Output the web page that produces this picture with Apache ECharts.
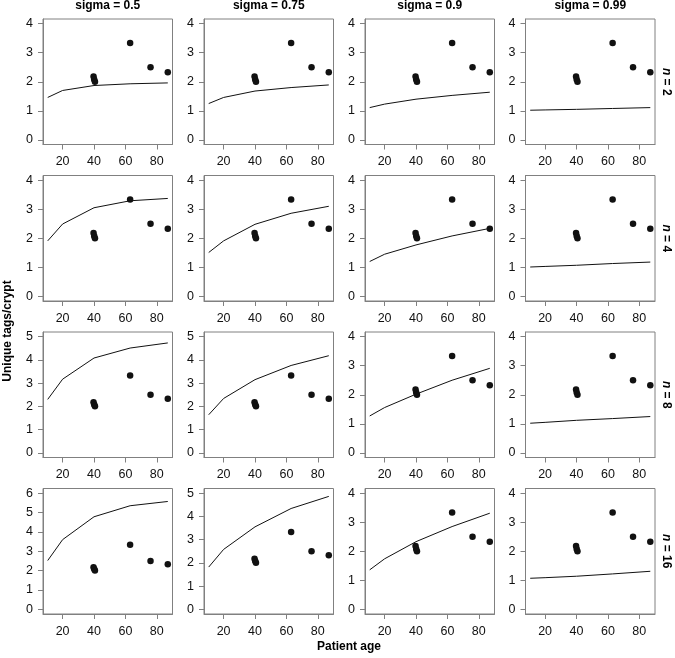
<!DOCTYPE html>
<html>
<head>
<meta charset="utf-8">
<script src="https://cdn.jsdelivr.net/npm/echarts@6/dist/echarts.min.js"></script>
<style>
html,body{margin:0;padding:0;background:#fff;}
#chart{width:675px;height:658px;}
</style>
</head>
<body>
<div id="chart"></div>
<script>
// Column (sigma) and row (n) panel labels
const sigmaLabels = ['sigma = 0.5', 'sigma = 0.75', 'sigma = 0.9', 'sigma = 0.99'];
const nValues = [2, 4, 8, 16];

// Observed data (same in every panel)
const patientAges = [39.7, 40.1, 40.6, 63, 76, 87];
const uniqueTags = [2.18, 2.08, 2.0, 3.33, 2.5, 2.33];

// Model curve ages
const modelAges = [10.5, 20, 40, 63, 87];

// Model curves: one array per sigma column, per n row
const modelN2 = [
  [1.46, 1.70, 1.87, 1.93, 1.96],
  [1.25, 1.46, 1.68, 1.80, 1.89],
  [1.11, 1.23, 1.40, 1.53, 1.64],
  [1.02, 1.03, 1.05, 1.08, 1.11]
];
const modelN4 = [
  [1.91, 2.49, 3.05, 3.29, 3.37],
  [1.51, 1.91, 2.48, 2.86, 3.10],
  [1.20, 1.45, 1.77, 2.08, 2.34],
  [1.01, 1.03, 1.07, 1.13, 1.18]
];
const modelN8 = [
  [2.30, 3.17, 4.08, 4.51, 4.73],
  [1.64, 2.34, 3.15, 3.76, 4.18],
  [1.27, 1.56, 2.02, 2.50, 2.91],
  [1.02, 1.05, 1.12, 1.18, 1.25]
];
const modelN16 = [
  [2.52, 3.60, 4.78, 5.35, 5.57],
  [1.82, 2.58, 3.55, 4.34, 4.86],
  [1.36, 1.74, 2.33, 2.85, 3.31],
  [1.07, 1.09, 1.14, 1.22, 1.31]
];
const models = [modelN2, modelN4, modelN8, modelN16];

// Tick labels
const xTicks = [20, 40, 60, 80];
const xRange = [7.5, 90];

const FONT = '"Liberation Sans", Arial, Helvetica, sans-serif';
const FRAME = '#808080';

const colLefts = [43, 204, 365, 525.5];
const rowTops = [19, 175.5, 332, 488.5];
const PW = 129.5, PH = 125.5;

const grids = [], xAxes = [], yAxes = [], series = [], graphics = [];

for (let r = 0; r < 4; r++) {
  for (let c = 0; c < 4; c++) {
    const idx = r * 4 + c;
    const curve = models[r][c];
    const yMax = Math.ceil(Math.max(...curve, ...uniqueTags));
    const yTicks = [];
    for (let v = 0; v <= yMax; v++) yTicks.push(v);
    const pad = yMax * 0.04;
    grids.push({
      left: colLefts[c], top: rowTops[r], width: PW, height: PH,
      show: true, borderColor: FRAME, borderWidth: 1, backgroundColor: 'transparent'
    });
    xAxes.push({
      type: 'value', gridIndex: idx, min: xRange[0], max: xRange[1],
      axisLine: { show: true, onZero: false, lineStyle: { color: FRAME, width: 1 } },
      axisTick: { show: true, length: 5, customValues: xTicks, lineStyle: { color: FRAME } },
      axisLabel: { show: true, customValues: xTicks, margin: 11, color: '#111', fontSize: 12.5, fontFamily: FONT },
      splitLine: { show: false }
    });
    yAxes.push({
      type: 'value', gridIndex: idx, min: -pad, max: yMax + pad,
      axisLine: { show: true, onZero: false, lineStyle: { color: FRAME, width: 1 } },
      axisTick: { show: true, length: 5, customValues: yTicks, lineStyle: { color: FRAME } },
      axisLabel: { show: true, customValues: yTicks, margin: 10, color: '#111', fontSize: 12.5, fontFamily: FONT },
      splitLine: { show: false }
    });
    series.push({
      type: 'line', xAxisIndex: idx, yAxisIndex: idx,
      data: modelAges.map((a, i) => [a, curve[i]]),
      showSymbol: false, symbol: 'none',
      lineStyle: { color: '#111', width: 1 }, silent: true, animation: false
    });
    series.push({
      type: 'scatter', xAxisIndex: idx, yAxisIndex: idx,
      data: patientAges.map((a, i) => [a, uniqueTags[i]]),
      symbol: 'circle', symbolSize: 6.5,
      itemStyle: { color: '#111', opacity: 1 }, silent: true, animation: false
    });
  }
}

// Column strip titles
for (let c = 0; c < 4; c++) {
  graphics.push({
    type: 'text', x: colLefts[c] + PW / 2, y: 6,
    style: { text: sigmaLabels[c], font: 'bold 12px ' + FONT, fill: '#000', align: 'center', verticalAlign: 'middle' }
  });
}
// Row strip titles (rotated, italic n)
for (let r = 0; r < 4; r++) {
  graphics.push({
    type: 'text', x: 666, y: rowTops[r] + PH / 2, rotation: -Math.PI / 2,
    style: {
      text: '{i|n} = ' + nValues[r],
      rich: { i: { font: 'italic bold 12px ' + FONT, fill: '#000' } },
      font: 'bold 12px ' + FONT, fill: '#000', align: 'center', verticalAlign: 'middle'
    }
  });
}
// Axis titles
graphics.push({
  type: 'text', x: 349, y: 647,
  style: { text: 'Patient age', font: 'bold 12px ' + FONT, fill: '#000', align: 'center', verticalAlign: 'middle' }
});
graphics.push({
  type: 'text', x: 8, y: 331, rotation: Math.PI / 2,
  style: { text: 'Unique tags/crypt', font: 'bold 12px ' + FONT, fill: '#000', align: 'center', verticalAlign: 'middle' }
});

const chart = echarts.init(document.getElementById('chart'), null, { renderer: 'canvas' });
chart.setOption({
  animation: false,
  backgroundColor: '#fff',
  grid: grids,
  xAxis: xAxes,
  yAxis: yAxes,
  series: series,
  graphic: graphics
});
</script>
</body>
</html>
